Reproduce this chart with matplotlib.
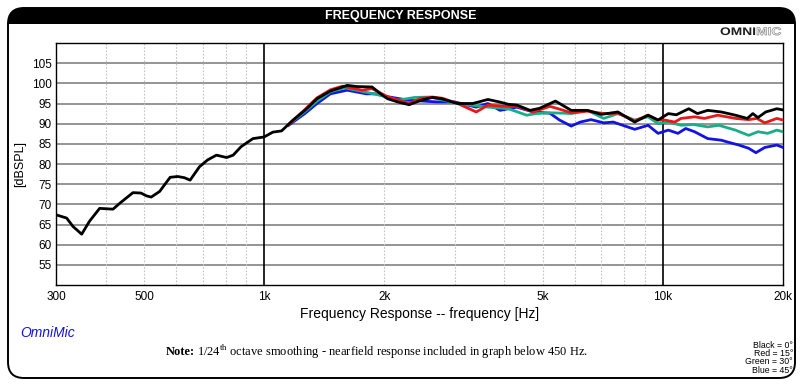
import numpy as np
import matplotlib
matplotlib.use('Agg')
import matplotlib.pyplot as plt
from matplotlib.patches import FancyBboxPatch, Rectangle, PathPatch
from matplotlib.ticker import FixedLocator, NullFormatter
from matplotlib.textpath import TextPath
from matplotlib.font_manager import FontProperties
from matplotlib.transforms import Affine2D

# frequency response data (Hz, dBSPL)
black_f = [300, 319, 331, 348, 364, 386, 417, 434, 468, 490, 506, 520, 546, 580, 606, 630,
           651, 687, 720, 758, 804, 835, 874, 936, 998, 1050, 1104, 1180, 1263, 1355, 1464,
           1550, 1613, 1705, 1862, 1957, 2035, 2157, 2307, 2469, 2641, 2775, 3053, 3333,
           3636, 3880, 4094, 4300, 4640, 4900, 5372, 5885, 6464, 6998, 7707, 8490, 9173,
           9718, 10314, 10800, 11601, 12200, 12946, 14000, 15200, 16270, 16800, 17300,
           18100, 19300, 20000]
black_db = [67.4, 66.6, 64.5, 62.6, 65.8, 69.0, 68.8, 70.3, 72.9, 72.8, 72.1, 71.8, 73.2,
            76.7, 76.9, 76.6, 76.0, 79.3, 81.0, 82.2, 81.6, 82.2, 84.3, 86.3, 86.7, 87.9,
            88.2, 90.9, 93.3, 96.2, 98.1, 98.9, 99.5, 99.2, 99.1, 97.4, 96.2, 95.4, 94.7,
            95.8, 96.5, 96.2, 95.0, 95.0, 96.0, 95.4, 94.8, 94.6, 93.3, 93.8, 95.6, 93.3,
            93.3, 92.3, 92.9, 90.4, 92.1, 90.9, 92.5, 92.2, 93.7, 92.5, 93.3, 92.9, 92.1,
            91.3, 92.5, 91.5, 92.9, 93.7, 93.4]

red_f = [1150, 1263, 1355, 1464, 1570, 1760, 1862, 2035, 2307, 2469, 2641, 2800, 3053,
         3400, 3636, 4000, 4300, 4730, 5200, 5500, 5885, 6464, 7100, 7707, 8490, 9173,
         9718, 10100, 10700, 11100, 12000, 12700, 13720, 15200, 16400, 17200, 18000,
         19300, 20000]
red_db = [89.8, 93.5, 96.4, 98.4, 99.3, 98.3, 98.7, 96.7, 95.0, 96.3, 96.6, 96.3, 95.0,
          92.9, 94.6, 94.3, 94.3, 92.9, 94.3, 93.6, 92.7, 93.1, 92.5, 92.6, 90.7, 92.1,
          90.9, 90.9, 90.4, 91.3, 91.7, 91.3, 92.1, 91.3, 91.0, 91.3, 90.2, 91.3, 90.9]

green_f = [1150, 1263, 1355, 1464, 1590, 1760, 1957, 2157, 2380, 2600, 3053, 3636, 4094,
           4550, 4800, 5200, 5600, 5885, 6464, 7100, 7707, 8490, 9173, 9718, 10314, 11100,
           11900, 12946, 13800, 15200, 16400, 17300, 18300, 19300, 20000]
green_db = [89.8, 93.0, 95.6, 97.9, 98.9, 98.0, 97.0, 95.8, 96.5, 96.6, 95.0, 94.1, 93.7,
            92.1, 92.5, 92.7, 92.6, 92.5, 93.3, 91.3, 92.5, 90.9, 91.7, 90.0, 90.4, 89.6,
            89.8, 89.2, 89.6, 88.4, 87.1, 88.0, 87.6, 88.4, 88.0]

blue_f = [1150, 1263, 1355, 1464, 1613, 1800, 1900, 2035, 2300, 2700, 3000, 3400, 3636,
          3900, 4300, 4730, 5200, 5500, 5885, 6200, 6600, 7100, 7500, 8490, 9173, 9718,
          10314, 10900, 11400, 12000, 12946, 14000, 14700, 15500, 16400, 17100, 18000,
          19300, 20000]
blue_db = [89.6, 92.5, 95.0, 97.4, 98.3, 97.4, 97.4, 96.7, 95.8, 95.4, 95.4, 94.1, 95.0,
           93.3, 94.1, 92.9, 92.6, 90.9, 89.4, 90.4, 91.0, 90.2, 90.4, 88.6, 89.6, 87.6,
           88.4, 87.6, 88.8, 88.0, 86.3, 85.9, 85.3, 84.7, 83.9, 82.8, 84.1, 84.7, 84.1]

xticks = [300, 500, 1000, 2000, 5000, 10000, 20000]
xticklabels = ['300', '500', '1k', '2k', '5k', '10k', '20k']
minor_f = [400, 500, 600, 700, 800, 900, 2000, 3000, 4000, 5000, 6000, 7000, 8000, 9000]
yticks = [55, 60, 65, 70, 75, 80, 85, 90, 95, 100, 105]

plt.rcParams['font.family'] = ['Liberation Sans', 'DejaVu Sans']
plt.rcParams['mathtext.fontset'] = 'custom'
plt.rcParams['mathtext.rm'] = 'Liberation Serif'
plt.rcParams['mathtext.bf'] = 'Liberation Serif:bold'

W, H = 807, 392
fig = plt.figure(figsize=(W / 100, H / 100), dpi=100)
tr = fig.dpi_scale_trans  # inches


def px(x, y):
    return x / 100, (H - y) / 100


# outer rounded frame and title bar
frame = FancyBboxPatch(px(8, 378), (795 - 8) / 100, (378 - 8) / 100,
                       boxstyle='round,pad=0,rounding_size=0.16', transform=tr,
                       facecolor='white', edgecolor='black', lw=1.4, zorder=-5)
fig.patches.append(frame)
bar = Rectangle(px(0, 24), W / 100, 0.2, transform=tr, facecolor='black',
                edgecolor='none', zorder=-4)
bar.set_clip_path(frame)
fig.patches.append(bar)
fig.text(401 / W, 1 - 16 / H, 'FREQUENCY RESPONSE', color='white', fontsize=9,
         weight='bold', ha='center', va='center')

# OMNIMIC logo, stretched wide
bold = FontProperties(family='Liberation Sans', weight='bold')
p_omni = TextPath((0, 0), 'OMNI', size=10, prop=bold)
p_mic = TextPath((0, 0), 'MIC', size=10, prop=bold)
sx, sy = 1.38, 1.1
w_omni = p_omni.get_extents().x1 * sx
logo_x, logo_y = 720, 35
t_omni = Affine2D().scale(sx / 100, sy / 100).translate(*px(logo_x, logo_y)) + tr
t_mic = Affine2D().scale(sx / 100, sy / 100).translate(*px(logo_x + w_omni + 1, logo_y)) + tr
fig.patches.append(PathPatch(p_omni, transform=t_omni, facecolor='#1e1e1e', edgecolor='none'))
fig.patches.append(PathPatch(p_mic, transform=t_mic, facecolor='white', edgecolor='#999999',
                             lw=0.6))

ax = fig.add_axes([56 / W, 1 - 285 / H, (783 - 56) / W, (285 - 43) / H])
ax.set_xscale('log')
ax.set_xlim(300, 20000)
ax.set_ylim(50, 110)

for y in yticks:
    ax.axhline(y, color='#8c8c8c', lw=1.3, zorder=1)
for f in minor_f:
    ax.axvline(f, color='#c4c4c4', lw=0.8, ls=(0, (1.5, 1.5)), zorder=1)
for f in [1000, 10000]:
    ax.axvline(f, color='black', lw=1.2, zorder=1)

ax.plot(blue_f, blue_db, color='#1212e6', lw=2, zorder=3, solid_joinstyle='round')
ax.plot(green_f, green_db, color='#1aae88', lw=2, zorder=3, solid_joinstyle='round')
ax.plot(red_f, red_db, color='#e81818', lw=2, zorder=3, solid_joinstyle='round')
ax.plot(black_f, black_db, color='black', lw=2, zorder=4, solid_joinstyle='round')

ax.xaxis.set_major_locator(FixedLocator(xticks))
ax.set_xticklabels(xticklabels)
ax.xaxis.set_minor_formatter(NullFormatter())
ax.tick_params(axis='x', which='both', length=0, labelsize=8.5, pad=4)
ax.set_yticks(yticks)
ax.tick_params(axis='y', length=0, labelsize=8.5, pad=3)
for s in ax.spines.values():
    s.set_linewidth(1.0)

ax.set_xlabel('Frequency Response -- frequency [Hz]', fontsize=10, labelpad=3)
ax.set_ylabel('[dBSPL]', fontsize=9, labelpad=4)

fig.text(20 / W, 1 - 333 / H, 'OmniMic', color='#1414d2', fontsize=10, style='italic',
         ha='left', va='center')
fig.text(195 / W, 1 - 352 / H, 'Note:', family='Liberation Serif', weight='bold',
         fontsize=9, ha='right', va='center')
fig.text(197 / W, 1 - 352 / H,
         r'1/24$^{\rm th}$ octave smoothing - nearfield response included in graph below 450 Hz.',
         family='Liberation Serif', fontsize=9, ha='left', va='center')
legend_lines = ['Black = 0\u00b0', 'Red = 15\u00b0', 'Green = 30\u00b0', 'Blue = 45\u00b0']
for i, t in enumerate(legend_lines):
    fig.text(793 / W, 1 - (345 + 8.5 * i) / H, t, fontsize=6.3, ha='right', va='center')

fig.savefig('out.png', dpi=100)
